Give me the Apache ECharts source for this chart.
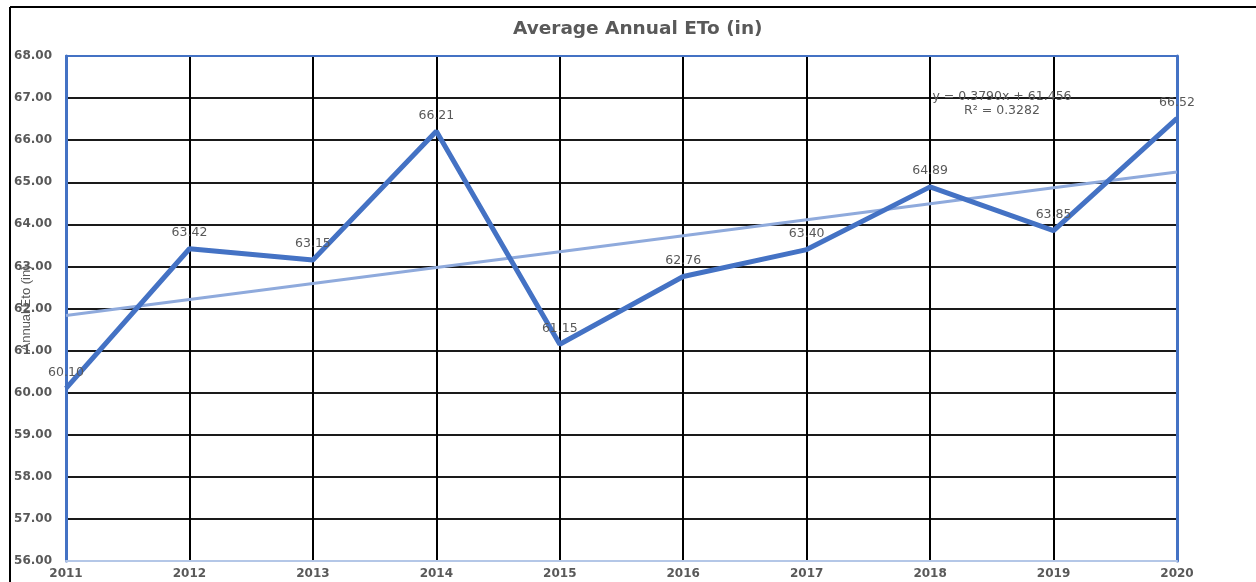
<!DOCTYPE html>
<html>
<head>
<meta charset="utf-8">
<title>Average Annual ETo (in)</title>
<script src="https://cdn.jsdelivr.net/npm/echarts@6/dist/echarts.min.js"></script>
<style>
  html, body { margin: 0; padding: 0; background: #fff; }
  #chart { width: 1256px; height: 582px; }
</style>
</head>
<body>
<div id="chart"></div>
<script>
// Years on the horizontal axis
const years = ['2011', '2012', '2013', '2014', '2015', '2016', '2017', '2018', '2019', '2020'];
// Average annual reference evapotranspiration, inches
const etoValues = [60.10, 63.42, 63.15, 66.21, 61.15, 62.76, 63.40, 64.89, 63.85, 66.52];
// Linear trendline coefficients (x = 1 for the first year)
const trendSlope = 0.3790;
const trendIntercept = 61.456;
const trendR2 = 0.3282;
// Value axis range
const yMin = 56;
const yMax = 68;
const yStep = 1;

const trendValues = years.map((_, i) => +(trendSlope * (i + 1) + trendIntercept).toFixed(4));

const gray = '#595959';
const lineBlue = '#4472C4';
const trendBlue = '#8FAADC';

const chart = echarts.init(document.getElementById('chart'), null, { renderer: 'canvas' });

chart.setOption({
  animation: false,
  backgroundColor: '#ffffff',
  title: {
    text: 'Average Annual ETo (in)',
    left: 508,
    top: 15,
    textStyle: { fontFamily: 'DejaVu Sans', fontWeight: 'bold', fontSize: 18.5, color: gray }
  },
  grid: { left: 66, right: 79, top: 56, bottom: 21, containLabel: false, outerBoundsMode: 'none' },
  xAxis: [
    {
      type: 'category',
      data: years,
      boundaryGap: false,
      axisLine: { lineStyle: { color: '#B4C7E7', width: 2 } },
      axisTick: { show: false },
      axisLabel: { margin: 7, fontFamily: 'DejaVu Sans', fontWeight: 'bold', fontSize: 12, color: gray },
      splitLine: { show: true, showMinLine: false, showMaxLine: false, lineStyle: { color: '#000', width: 2 } }
    },
    {
      type: 'category',
      data: years,
      boundaryGap: false,
      position: 'top',
      axisLine: { lineStyle: { color: lineBlue, width: 2 } },
      axisTick: { show: false },
      axisLabel: { show: false },
      splitLine: { show: false }
    }
  ],
  yAxis: [
    {
      type: 'value',
      min: yMin,
      max: yMax,
      interval: yStep,
      name: 'Annual Eto (in)',
      nameLocation: 'middle',
      nameRotate: 90,
      nameGap: 33,
      nameMoveOverlap: false,
      nameTextStyle: { fontFamily: 'Liberation Sans Narrow, Liberation Sans', fontSize: 13, color: gray },
      axisLine: { show: true, lineStyle: { color: lineBlue, width: 3 } },
      axisTick: { show: false },
      axisLabel: {
        margin: 14,
        fontFamily: 'DejaVu Sans', fontWeight: 'bold', fontSize: 12, color: gray,
        formatter: v => v.toFixed(2)
      },
      splitLine: { show: true, showMinLine: false, showMaxLine: false, lineStyle: { color: '#1a1a1a', width: 2 } }
    },
    {
      type: 'value',
      min: yMin,
      max: yMax,
      interval: yStep,
      position: 'right',
      axisLine: { show: true, lineStyle: { color: lineBlue, width: 3 } },
      axisTick: { show: false },
      axisLabel: { show: false },
      splitLine: { show: false }
    }
  ],
  series: [
    {
      name: 'Trend',
      type: 'line',
      data: trendValues,
      symbol: 'none',
      silent: true,
      z: 3,
      lineStyle: { color: trendBlue, width: 3 }
    },
    {
      name: 'ETo',
      type: 'line',
      data: etoValues,
      symbol: 'circle',
      symbolSize: 1,
      showSymbol: true,
      itemStyle: { color: lineBlue },
      z: 4,
      lineStyle: { color: lineBlue, width: 5 },
      label: {
        show: true,
        position: 'top',
        distance: 9,
        fontFamily: 'DejaVu Sans',
        fontSize: 12.5,
        color: gray,
        formatter: p => p.value.toFixed(2)
      },
      labelLayout: { hideOverlap: false }
    }
  ],
  graphic: [
    // outer frame: left and top edges
    { type: 'line', shape: { x1: 10, y1: 7, x2: 10, y2: 582 }, style: { stroke: '#000', lineWidth: 2 }, z: 10 },
    { type: 'line', shape: { x1: 10, y1: 7, x2: 1256, y2: 7 }, style: { stroke: '#000', lineWidth: 2 }, z: 10 },
    // trendline equation
    {
      type: 'text', x: 1002, y: 90, z: 10,
      style: {
        text: 'y = ' + trendSlope.toFixed(4) + 'x + ' + trendIntercept.toFixed(3) + '\nR² = ' + trendR2.toFixed(4),
        align: 'center',
        fill: gray,
        font: '12.5px "DejaVu Sans"',
        lineHeight: 14
      }
    }
  ]
});
</script>
</body>
</html>
